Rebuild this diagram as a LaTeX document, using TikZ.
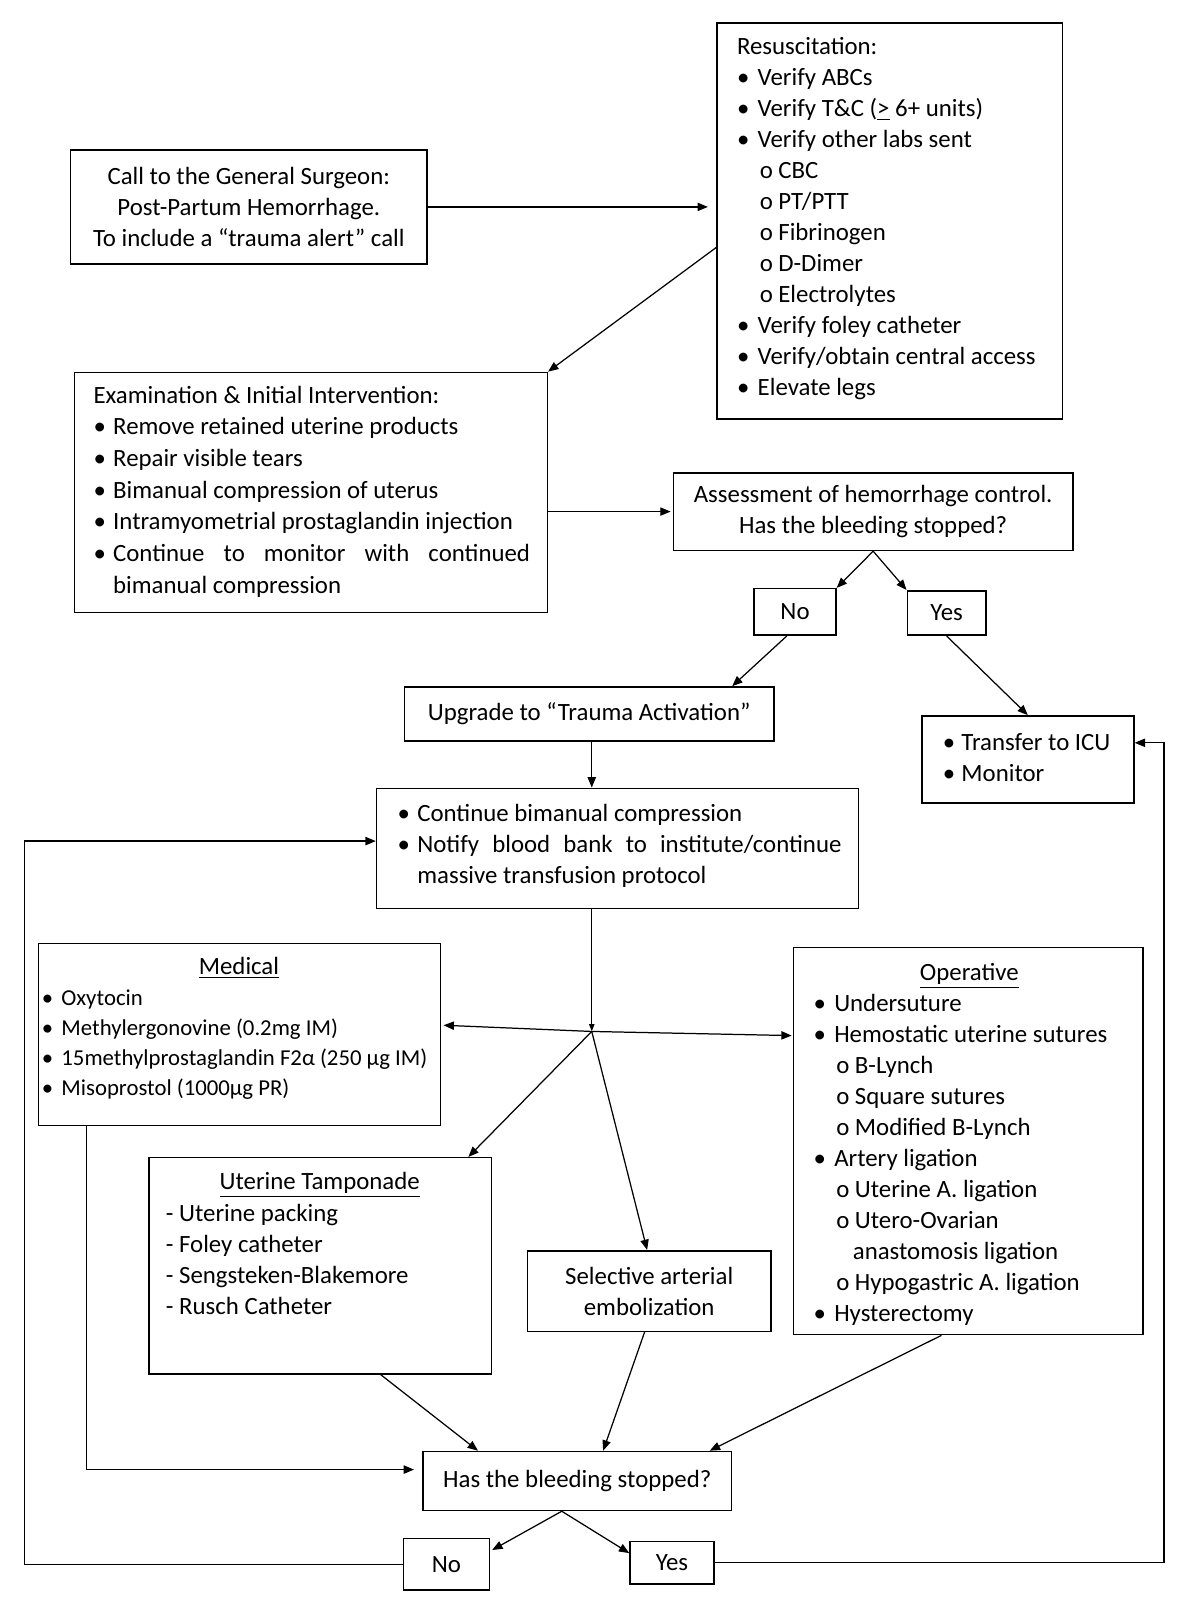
\documentclass[tikz,border=0pt]{standalone}
\usepackage{fontspec}
\setmainfont{Carlito}
\usetikzlibrary{arrows.meta,calc}
\newcommand{\fnt}{\fontsize{12}{15}\selectfont}
\newcommand{\bl}[1][10pt]{\makebox[#1][l]{\textbullet}}
\newcommand{\sbl}[2]{\hspace*{#1}\makebox[#2][l]{o}}
\newcommand{\bx}[6]{\node[box,minimum width={(#4-#2)*0.5pt},minimum height={(#5-#3)*0.5pt}] (#1) at ({(#2+#4)/2},{(#3+#5)/2}) {#6};}
\tikzset{
  box/.style={draw, line width=0.75pt, inner sep=0pt, align=center, font=\fnt},
  txt/.style={inner sep=0pt, align=left, anchor=north west, font=\fnt},
  hdr/.style={inner sep=0pt, anchor=base, font=\fnt},
  arr/.style={line width=0.6pt, -{Triangle[length=5pt,width=4pt]}},
}
\begin{document}
\begin{tikzpicture}[x=0.5pt,y=-0.5pt]
\useasboundingbox[fill=white] (0,0) rectangle (1160,1563);
% boxes
\bx{call}{68}{145}{413}{255}{Call to the General Surgeon:\\Post-Partum Hemorrhage.\\To include a “trauma alert” call}
\bx{resus}{693}{22}{1027}{405}{}
\bx{exam}{72}{360}{529}{592}{}
\bx{assess}{651}{457}{1037}{532}{Assessment of hemorrhage control.\\Has the bleeding stopped?}
\bx{no1}{729}{569}{808}{614}{No}
\bx{yes1}{877}{571}{953}{614}{Yes}
\bx{upgrade}{391}{664}{748}{716}{Upgrade to “Trauma Activation”}
\bx{transfer}{891}{692}{1096}{776}{}
\bx{cont}{364}{762}{830}{878}{}
\bx{med}{37}{912}{426}{1088}{}
\bx{op}{767}{916}{1105}{1290}{}
\bx{tamp}{144}{1119}{475}{1328}{}
\bx{sel}{510}{1209}{745}{1287}{Selective arterial\\embolization}
\bx{bleed}{409}{1403}{707}{1460}{Has the bleeding stopped?}
\bx{no2}{390}{1487}{473}{1537}{No}
\bx{yes2}{609}{1490}{690}{1531}{Yes}
% texts
\node[txt] (resusT) at (712,31) {\strut Resuscitation:\\
\bl Verify ABCs\\
\bl Verify T\&C (\underline{>} 6+ units)\\
\bl Verify other labs sent\\
\sbl{11pt}{9pt}CBC\\
\sbl{11pt}{9pt}PT/PTT\\
\sbl{11pt}{9pt}Fibrinogen\\
\sbl{11pt}{9pt}D-Dimer\\
\sbl{11pt}{9pt}Electrolytes\\
\bl Verify foley catheter\\
\bl Verify/obtain central access\\
\bl Elevate legs};
\node[txt,font=\fontsize{12}{15.3}\selectfont] (examT) at (90,368) {\strut Examination \& Initial Intervention:\\
\bl[9.5pt]Remove retained uterine products\\
\bl[9.5pt]Repair visible tears\\
\bl[9.5pt]Bimanual compression of uterus\\
\bl[9.5pt]Intramyometrial prostaglandin injection\\
\bl[9.5pt]\makebox[201.5pt][s]{Continue to monitor with continued}\\
\hspace*{9.5pt}bimanual compression};
\node[txt] (transferT) at (911,704) {\strut\bl[9pt]Transfer to ICU\\
\bl[9pt]Monitor};
\node[txt] (contT) at (384,773) {\strut\bl[9.5pt]Continue bimanual compression\\
\bl[9.5pt]\makebox[205pt][s]{Notify blood bank to institute/continue}\\
\hspace*{9.5pt}massive transfusion protocol};
\node[hdr] (medH) at (231,942) {\underline{Medical}};
\node[txt,font=\fontsize{11}{14.5}\selectfont] (medT) at (40,951) {\strut\bl[9.5pt]Oxytocin\\
\bl[9.5pt]Methylergonovine (0.2mg IM)\\
\bl[9.5pt]15methylprostaglandin F2α (250 µg IM)\\
\bl[9.5pt]Misoprostol (1000µg PR)};
\node[hdr] (opH) at (937,948) {\underline{Operative}};
\node[txt] (opT) at (786,956) {\strut\bl Undersuture\\
\bl Hemostatic uterine sutures\\
\sbl{11pt}{9pt}B-Lynch\\
\sbl{11pt}{9pt}Square sutures\\
\sbl{11pt}{9pt}Modified B-Lynch\\
\bl Artery ligation\\
\sbl{11pt}{9pt}Uterine A. ligation\\
\sbl{11pt}{9pt}Utero-Ovarian\\
\hspace*{19pt}anastomosis ligation\\
\sbl{11pt}{9pt}Hypogastric A. ligation\\
\bl Hysterectomy};
\node[hdr] (tampH) at (309,1150) {\underline{Uterine Tamponade}};
\node[txt] (tampT) at (160,1159) {\strut - Uterine packing\\
- Foley catheter\\
- Sengsteken-Blakemore\\
- Rusch Catheter};
% connectors
\coordinate (hub) at (572,997);
\coordinate (lx) at (24,813);
\coordinate (rx) at (1125,718);
\draw[arr,shorten >=4pt] (call.east) -- (call.east -| resus.west);
\draw[arr] ($(resus.north west)+(0,218)$) -- (exam.north east);
\draw[arr,shorten >=1pt] (exam.east |- assess.west) -- (assess.west);
\draw[arr] (assess.south) -- (no1.north east);
\draw[arr] (assess.south) -- (yes1.north west);
\draw[arr] ($(no1.south)+(-8,0)$) -- ($(upgrade.north east)+(-41,0)$);
\draw[arr] (yes1.south) -- (transfer.north);
\draw[arr] (upgrade.south -| hub) -- (cont.north -| hub);
\draw[line width=0.6pt,-{Triangle[length=3.5pt,width=2.5pt]}] (cont.south -| hub) -- (hub);
\draw[arr] (hub) -- ($(med.east)+(2,-9)$);
\draw[arr] (hub) -- ($(op.west)+(-1,-102)$);
\draw[arr] (hub) -- ($(tamp.north east)+(-23,0)$);
\draw[arr] (hub) -- ($(sel.north)+(-2,0)$);
\draw[arr,shorten >=4pt] ($(med.south west)+(47,0)$) |- ($(bleed.west)+(0,-11)$);
\draw[arr] ($(tamp.south)+(58.5,0)$) -- ($(bleed.north)+(-96,0)$);
\draw[arr] ($(sel.south)+(-4.5,0)$) -- ($(bleed.north)+(25,0)$);
\draw[arr] ($(op.south)+(-26,0)$) -- ($(bleed.north)+(128,0)$);
\draw[arr] ($(bleed.south)+(-15,0)$) -- ($(no2.north east)+(2,12)$);
\draw[arr] ($(bleed.south)+(-15,0)$) -- ($(yes2.north west)+(0,12)$);
\draw[arr] (no2.west) -| (lx) -- (cont.west |- lx);
\draw[arr] (yes2.east) -| (rx) -- (transfer.east |- rx);
\end{tikzpicture}
\end{document}
